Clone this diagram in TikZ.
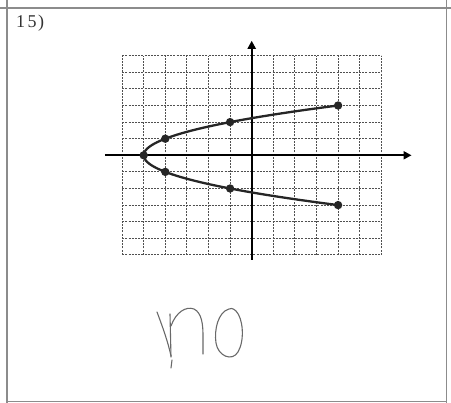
\documentclass[tikz,border=0pt]{standalone}
\usepackage{fontspec}
\setmainfont{Liberation Serif}
\usetikzlibrary{arrows.meta}
\definecolor{framegray}{RGB}{140,140,140}
\definecolor{gridgray}{RGB}{80,80,80}
\definecolor{inkgray}{RGB}{105,105,105}
\tikzset{
  frameline/.style={draw=framegray, line width=1.3pt},
  gridline/.style={draw=gridgray, line width=1pt, dash pattern=on 2pt off 1.2pt},
  axisline/.style={draw=black, line width=2.2pt, -{Triangle[length=8pt,width=8pt]}},
  curveline/.style={draw=black!85, line width=2.3pt},
  ptdot/.style={fill=black!85},
  ink/.style={draw=inkgray, line width=1.1pt, line cap=round, line join=round}
}
\begin{document}
\begin{tikzpicture}[x=1pt,y=-1pt]
\useasboundingbox (0,0) rectangle (451,403);
% frame
\coordinate (tl) at (0,8); \coordinate (tr) at (451,8);
\draw[frameline] (tl) -- (tr);
\coordinate (l1) at (7,0); \coordinate (l2) at (7,403);
\draw[frameline] (l1) -- (l2);
\coordinate (r1) at (446.5,0); \coordinate (r2) at (446.5,403);
\draw[frameline] (r1) -- (r2);
\coordinate (b1) at (7,401.5); \coordinate (b2) at (446.5,401.5);
\draw[frameline] (b1) -- (b2);
\node[anchor=base west, inner sep=0pt, text=black!80, font=\fontsize{18}{18}\selectfont] (num) at (16,27.5) {1\hspace{2.5pt}5\hspace{1.5pt})};
% graph
\begin{scope}[shift={(251.7,155.3)}, x=21.6pt, y=16.6pt]
  \foreach \i in {-6,...,6} {
    \draw[gridline] (\i,-6) -- (\i,6);
    \draw[gridline] (-6,\i) -- (6,\i);
  }
  \coordinate (xs) at (-6.8,0); \coordinate (xe) at (7.4,0);
  \coordinate (ys) at (0,-6.3); \coordinate (ye) at (0,6.9);
  \draw[axisline] (xs) -- (xe);
  \draw[axisline] (ys) -- (ye);
  \foreach \v/\n in {-3/a,-2/b,-1/c,0/d,1/e,2/f,3/g} {
    \coordinate (\n) at ({\v*\v-5},\v);
  }
  \draw[curveline] plot[domain=-3:3, samples=61, smooth] ({\x*\x-5},\x);
  \foreach \n in {a,b,c,d,e,f,g} { \fill[ptdot] (\n) circle[radius=4.2pt]; }
\end{scope}
% handwritten "no"
\draw[ink] (157,312) .. controls (163,328) and (168,342) .. (171,356);
\draw[ink] (170,314) -- (171,357);
\draw[ink] (171,326) .. controls (176,312) and (186,306) .. (194,309)
  .. controls (202,313) and (203,325) .. (203,336) -- (203,354);
\draw[ink] (172,360) -- (171,368);
\draw[ink] (229,309) .. controls (218,312) and (214,330) .. (216,343)
  .. controls (218,356) and (232,362) .. (238,352)
  .. controls (245,340) and (243,318) .. (236,311)
  .. controls (233,308) and (230,308) .. (229,309);
\end{tikzpicture}
\end{document}
